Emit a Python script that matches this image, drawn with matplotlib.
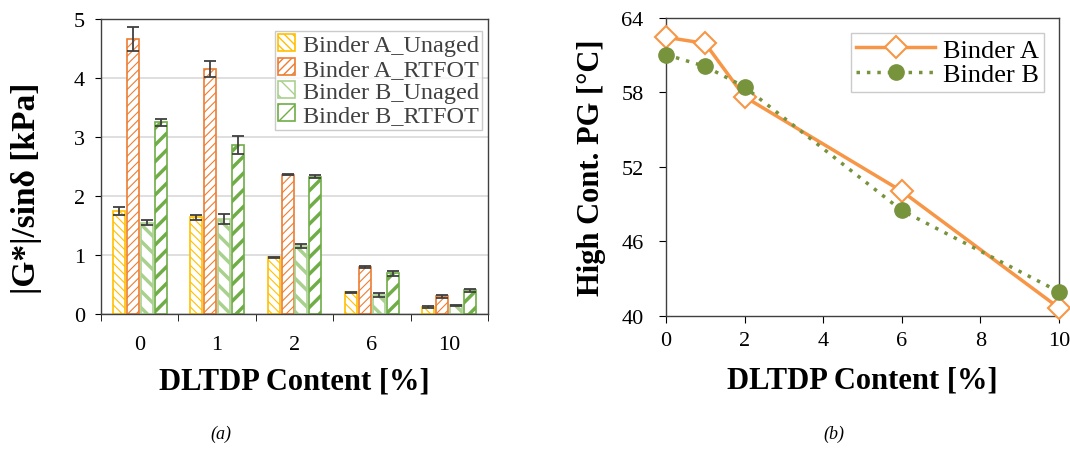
import numpy as np
import matplotlib
matplotlib.use("Agg")
import matplotlib.pyplot as plt

plt.rcParams["font.family"] = ["Liberation Serif", "DejaVu Serif"]

# data for (a)
contents = ["0", "1", "2", "6", "10"]
a_unaged = [1.75, 1.64, 0.96, 0.37, 0.12]
a_unaged_err = [0.07, 0.04, 0.01, 0.01, 0.02]
a_rtfot = [4.66, 4.15, 2.36, 0.80, 0.30]
a_rtfot_err = [0.21, 0.14, 0.01, 0.02, 0.03]
b_unaged = [1.55, 1.61, 1.15, 0.32, 0.15]
b_unaged_err = [0.04, 0.09, 0.03, 0.03, 0.01]
b_rtfot = [3.25, 2.86, 2.33, 0.69, 0.40]
b_rtfot_err = [0.06, 0.15, 0.02, 0.04, 0.02]

# data for (b)
dltdp = [0, 1, 2, 6, 10]
pg_a = [62.45, 61.95, 57.65, 50.05, 40.65]
pg_b = [61.05, 60.1, 58.45, 48.5, 41.95]

fig = plt.figure(figsize=(10.7, 4.52), dpi=100)
ax1 = fig.add_axes([0.0944, 0.303, 0.3617, 0.653])
ax2 = fig.add_axes([0.6224, 0.2987, 0.3673, 0.6593])

x = np.arange(len(contents))
series = [
    (a_unaged, a_unaged_err, "#FFC000", "\\\\\\\\", 0.8, "Binder A_Unaged"),
    (a_rtfot, a_rtfot_err, "#ED7D31", "////", 0.8, "Binder A_RTFOT"),
    (b_unaged, b_unaged_err, "#A9D18E", "\\\\", 2.5, "Binder B_Unaged"),
    (b_rtfot, b_rtfot_err, "#70AD47", "//", 2.5, "Binder B_RTFOT"),
]
offsets = [-0.27, -0.09, 0.09, 0.27]
for (vals, err, col, hatch, hlw, lab), off in zip(series, offsets):
    with plt.rc_context({"hatch.linewidth": hlw}):
        ax1.bar(x + off, vals, width=0.155, facecolor="white", edgecolor=col,
                hatch=hatch, linewidth=1.2, label=lab, zorder=2)
    ax1.errorbar(x + off, vals, yerr=err, fmt="none", ecolor="#404040",
                 elinewidth=1.3, capsize=4, capthick=1.3, zorder=3)

ax1.set_ylim(0, 5)
ax1.set_xlim(-0.5, 4.5)
ax1.set_yticks(range(6))
ax1.yaxis.grid(True, color="#d9d9d9", linewidth=1.2, zorder=0)
ax1.set_axisbelow(True)
ax1.set_xticks(x)
ax1.set_xticklabels(contents)
ax1.set_xticks(np.arange(-0.5, 5, 1), minor=True)
ax1.tick_params(axis="x", which="major", length=0, labelsize=16, pad=15)
ax1.tick_params(axis="x", which="minor", length=5, direction="out")
ax1.tick_params(axis="y", labelsize=16, length=4.5, direction="out", pad=7)
for s in ax1.spines.values():
    s.set_color("#404040")
    s.set_linewidth(1.0)
ax1.set_ylabel("|G*|/sinδ [kPa]", fontsize=24, fontweight="bold")
ax1.yaxis.set_label_coords(-0.152, 0.43)
ax1.set_xlabel("DLTDP Content [%]", fontsize=22, fontweight="bold", labelpad=9)
leg1 = ax1.legend(loc="upper right", fontsize=17.5, frameon=True, fancybox=False,
                  edgecolor="#bfbfbf", handlelength=0.7, handleheight=0.7,
                  handletextpad=0.3, borderpad=0.15, labelspacing=0.05,
                  borderaxespad=0, bbox_to_anchor=(0.985, 0.96))
for t in leg1.get_texts():
    t.set_color("#404040")

ax2.plot(dltdp, pg_a, color="#F79646", linewidth=2.5, marker="D",
         markersize=11, markerfacecolor="white", markeredgecolor="#F79646",
         markeredgewidth=1.5, label="Binder A", clip_on=False, zorder=3)
ax2.plot(dltdp, pg_b, color="#77933C", linewidth=2.5, linestyle=(0, (1, 2)),
         marker="o", markersize=11, markerfacecolor="#77933C",
         markeredgecolor="#77933C", label="Binder B", clip_on=False, zorder=4)
ax2.set_xlim(0, 10)
ax2.set_ylim(40, 64)
ax2.set_xticks(range(0, 11, 2))
ax2.set_yticks(range(40, 65, 6))
ax2.tick_params(axis="both", labelsize=16, length=5, direction="out")
ax2.tick_params(axis="x", pad=6)
ax2.tick_params(axis="y", pad=11)
for s in ax2.spines.values():
    s.set_color("#404040")
    s.set_linewidth(1.0)
ax2.set_ylabel("High Cont. PG [°C]", fontsize=22, fontweight="bold")
ax2.yaxis.set_label_coords(-0.152, 0.5)
ax2.set_xlabel("DLTDP Content [%]", fontsize=22, fontweight="bold", labelpad=11)
ax2.legend(loc="upper right", fontsize=19, frameon=True, fancybox=False,
           edgecolor="#bfbfbf", handlelength=3.0, handletextpad=0.3,
           borderpad=0.2, labelspacing=0.05, borderaxespad=0,
           bbox_to_anchor=(0.963, 0.95))

fig.text(0.206, 0.03, "(a)", style="italic", fontsize=13, ha="center")
fig.text(0.779, 0.03, "(b)", style="italic", fontsize=13, ha="center")

fig.savefig("out.png", dpi=100)
